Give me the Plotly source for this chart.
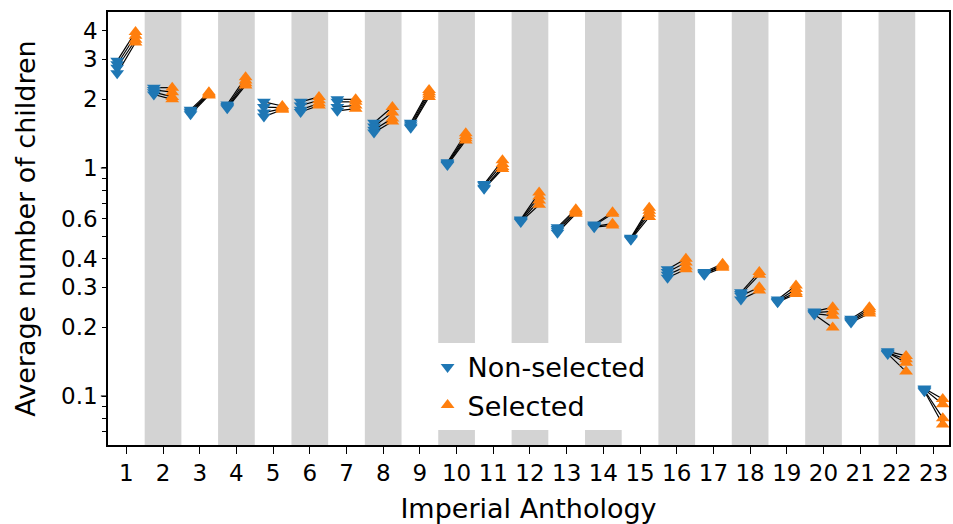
import plotly.graph_objects as go
import math

anthology = list(range(1, 24))
nonselected = [
    [2.95, 2.85, 2.75, 2.6],
    [2.25, 2.2, 2.15, 2.1],
    [1.8, 1.77, 1.75, 1.72],
    [1.9, 1.87, 1.85, 1.83],
    [1.95, 1.85, 1.75, 1.68],
    [1.95, 1.88, 1.8, 1.76],
    [2.0, 1.95, 1.85, 1.78],
    [1.58, 1.52, 1.47, 1.43],
    [1.58, 1.55, 1.52, 1.5],
    [1.06, 1.05, 1.04, 1.03],
    [0.85, 0.84, 0.82, 0.81],
    [0.595, 0.59, 0.585, 0.58],
    [0.55, 0.54, 0.53, 0.52],
    [0.565, 0.56, 0.555, 0.55],
    [0.495, 0.49, 0.49, 0.485],
    [0.36, 0.35, 0.34, 0.33],
    [0.35, 0.345, 0.345, 0.34],
    [0.285, 0.28, 0.275, 0.265],
    [0.265, 0.262, 0.26, 0.258],
    [0.235, 0.232, 0.23, 0.228],
    [0.218, 0.215, 0.213, 0.21],
    [0.157, 0.155, 0.155, 0.153],
    [0.108, 0.107, 0.106, 0.105],
]
selected = [
    [3.95, 3.8, 3.65, 3.55],
    [2.25, 2.15, 2.05, 2.0],
    [2.15, 2.12, 2.1, 2.08],
    [2.5, 2.42, 2.35, 2.3],
    [1.87, 1.84, 1.82, 1.8],
    [2.05, 1.98, 1.92, 1.88],
    [2.0, 1.95, 1.88, 1.82],
    [1.85, 1.75, 1.65, 1.6],
    [2.2, 2.15, 2.1, 2.05],
    [1.42, 1.38, 1.35, 1.32],
    [1.08, 1.04, 1.01, 0.99],
    [0.78, 0.75, 0.72, 0.69],
    [0.66, 0.65, 0.64, 0.63],
    [0.64, 0.63, 0.57, 0.56],
    [0.67, 0.65, 0.63, 0.61],
    [0.4, 0.385, 0.37, 0.36],
    [0.38, 0.375, 0.37, 0.365],
    [0.35, 0.34, 0.3, 0.29],
    [0.305, 0.295, 0.285, 0.28],
    [0.245, 0.235, 0.225, 0.2],
    [0.245, 0.24, 0.235, 0.23],
    [0.15, 0.145, 0.14, 0.128],
    [0.097, 0.092, 0.08, 0.075],
]
ytick_vals = [0.1, 0.2, 0.3, 0.4, 0.6, 1, 2, 3, 4]
ytick_text = ["0.1", "0.2", "0.3", "0.4", "0.6", "1", "2", "3", "4"]
yminor_vals = [0.07, 0.08, 0.09, 0.5, 0.7, 0.8, 0.9]

OFF = 0.25
BLUE = "#1f77b4"
ORANGE = "#ff7f0e"
FONT = "DejaVu Sans"

lx, ly = [], []
bx, by, ox, oy = [], [], [], []
for a, ns, s in zip(anthology, nonselected, selected):
    for v1, v2 in zip(ns, s):
        lx += [a - OFF, a + OFF, None]
        ly += [v1, v2, None]
        bx.append(a - OFF); by.append(v1)
        ox.append(a + OFF); oy.append(v2)

fig = go.Figure()
fig.add_trace(go.Scatter(x=lx, y=ly, mode="lines", line=dict(color="black", width=1.2),
                         showlegend=False, hoverinfo="skip"))
fig.add_trace(go.Scatter(x=bx, y=by, mode="markers", name="Non-selected",
                         marker=dict(symbol="triangle-down", size=12, color=BLUE)))
fig.add_trace(go.Scatter(x=ox, y=oy, mode="markers", name="Selected",
                         marker=dict(symbol="triangle-up", size=12, color=ORANGE)))

shapes = []
for a in anthology:
    if a % 2 == 0:
        shapes.append(dict(type="rect", xref="x", yref="paper", x0=a - 0.5, x1=a + 0.5,
                           y0=0, y1=1, fillcolor="lightgray", line=dict(width=0), layer="below"))
for v in [0.1, 1]:
    shapes.append(dict(type="line", xref="paper", yref="y", x0=-0.0085, x1=0, y0=v, y1=v,
                       line=dict(color="black", width=1.2)))

fig.update_layout(
    width=953, height=524,
    margin=dict(l=108, r=2, t=12, b=79),
    paper_bgcolor="white", plot_bgcolor="white",
    font=dict(family=FONT, size=23, color="black"),
    shapes=shapes,
    showlegend=True,
    legend=dict(x=0.38, y=0.035, xanchor="left", yanchor="bottom",
                bgcolor="white", borderwidth=0,
                font=dict(family=FONT, size=27, color="black"),
                itemsizing="constant", tracegroupgap=0),
)
fig.update_xaxes(
    range=[0.5, 23.42], tickmode="array", tickvals=anthology,
    ticktext=[str(a) for a in anthology],
    ticks="outside", ticklen=7, tickwidth=1.2, tickcolor="black",
    showline=True, linecolor="black", linewidth=1.5, mirror=True,
    showgrid=False, zeroline=False,
    title=dict(text="Imperial Anthology", font=dict(family=FONT, size=27), standoff=14),
    tickfont=dict(family=FONT, size=23),
)
fig.update_yaxes(
    type="log", range=[math.log10(0.061), math.log10(4.83)],
    tickmode="array", tickvals=ytick_vals, ticktext=ytick_text,
    ticks="outside", ticklen=4, tickwidth=1, tickcolor="black",
    minor=dict(tickmode="array", tickvals=yminor_vals, ticks="outside", ticklen=4,
               tickwidth=1, tickcolor="black", showgrid=False),
    showline=True, linecolor="black", linewidth=1.5, mirror=True,
    showgrid=False, zeroline=False,
    title=dict(text="Average number of children", font=dict(family=FONT, size=27), standoff=18),
    tickfont=dict(family=FONT, size=23),
)
fig.write_html("out.html")
